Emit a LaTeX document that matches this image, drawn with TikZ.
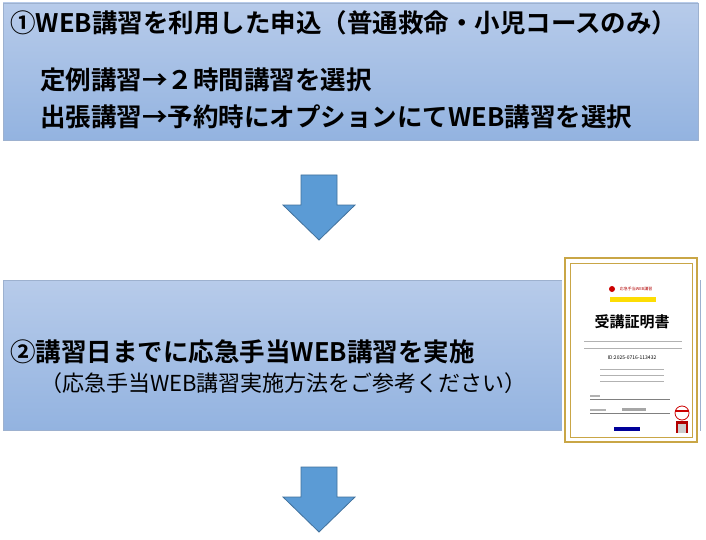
\documentclass[tikz,border=0pt]{standalone}
\usepackage{fontspec}
\setmainfont{Noto Sans CJK JP}
\newfontfamily\jpbold{Noto Sans CJK JP Bold}
\definecolor{boxtop}{HTML}{B7CBEA}
\definecolor{boxbot}{HTML}{93B3E0}
\definecolor{boxline}{HTML}{9DB1CF}
\definecolor{arrowblue}{HTML}{5B9BD5}
\definecolor{arrowline}{HTML}{41719C}
\definecolor{gold}{HTML}{C9A646}
% block arrow pointing down, top centre at (#1,#2)
\newcommand{\blockdown}[2]{%
  \draw[downarrow] (#1-18,#2) -- (#1+18,#2) -- (#1+18,#2+30) -- (#1+36,#2+30)
    -- (#1,#2+65) -- (#1-36,#2+30) -- (#1-18,#2+30) -- cycle;}
\begin{document}
\begin{tikzpicture}[x=1pt,y=-1pt,
  stepbox/.style={draw=boxline, line width=0.8pt, top color=boxtop, bottom color=boxbot},
  downarrow/.style={draw=arrowline, fill=arrowblue, line width=0.8pt, line join=miter},
  headline/.style={anchor=west, font=\jpbold\fontsize{25.5}{29}\selectfont, inner sep=0pt},
  subline/.style={anchor=west, font=\fontsize{22}{26}\selectfont, inner sep=0pt}
]
\useasboundingbox (0,0) rectangle (706,540);
\fill[white] (0,0) rectangle (706,540);
% first step
\draw[stepbox] (3,3) rectangle (698,140);
\node[headline] (apply) at (10,23) {①WEB講習を利用した申込（普通救命・小児コースのみ）};
\node[headline] (regular) at (40,80) {定例講習→２時間講習を選択};
\node[headline] (visit) at (40,117) {出張講習→予約時にオプションにてWEB講習を選択};
\blockdown{319}{175}
% second step
\draw[stepbox] (3,280) rectangle (700,430);
\node[headline] (webstudy) at (10,352) {②講習日までに応急手当WEB講習を実施};
\node[subline] (howto) at (40,383) {（応急手当WEB講習実施方法をご参考ください）};
\blockdown{319}{467}
% certificate
\fill[white] (562,255) rectangle (700,445);
\draw[gold, line width=2.5pt] (565,258) rectangle (697,442);
\draw[gold, line width=0.6pt] (570,263) rectangle (692,437);
\fill[red!80!black] (612,289) circle (3pt);
\node[font=\fontsize{4}{5}\selectfont, text=red!70!black, inner sep=0pt] (brand) at (636,289) {応急手当WEB講習};
\fill[yellow!80!orange] (610,297) rectangle (656,302);
\node[font=\jpbold\fontsize{15}{17}\selectfont, inner sep=0pt] (title) at (632,322) {受講証明書};
\foreach \yy in {341,348} \draw[gray!60, line width=1pt] (584,\yy) -- (682,\yy);
\node[font=\fontsize{5}{6}\selectfont, inner sep=0pt] (idno) at (632,358) {ID:2025-0716-113432};
\foreach \yy in {369,375,381} \draw[gray!60, line width=0.8pt] (600,\yy) -- (664,\yy);
\draw[gray] (590,399) -- (670,399);
\draw[gray] (590,413) -- (670,413);
\fill[gray!60] (590,395) rectangle (600,397);
\fill[gray!60] (590,409) rectangle (606,411);
\fill[gray!70] (622,408) rectangle (646,411);
\fill[blue!60!black] (614,427) rectangle (640,431);
% mascot
\fill[white, draw=red!80!black, line width=0.8pt] (682,413) circle (7pt);
\fill[red!80!black] (675,410) rectangle (689,412);
\fill[red!70!black] (676,421) rectangle (688,433);
\fill[gray!40] (678,424) rectangle (686,433);
\end{tikzpicture}
\end{document}
